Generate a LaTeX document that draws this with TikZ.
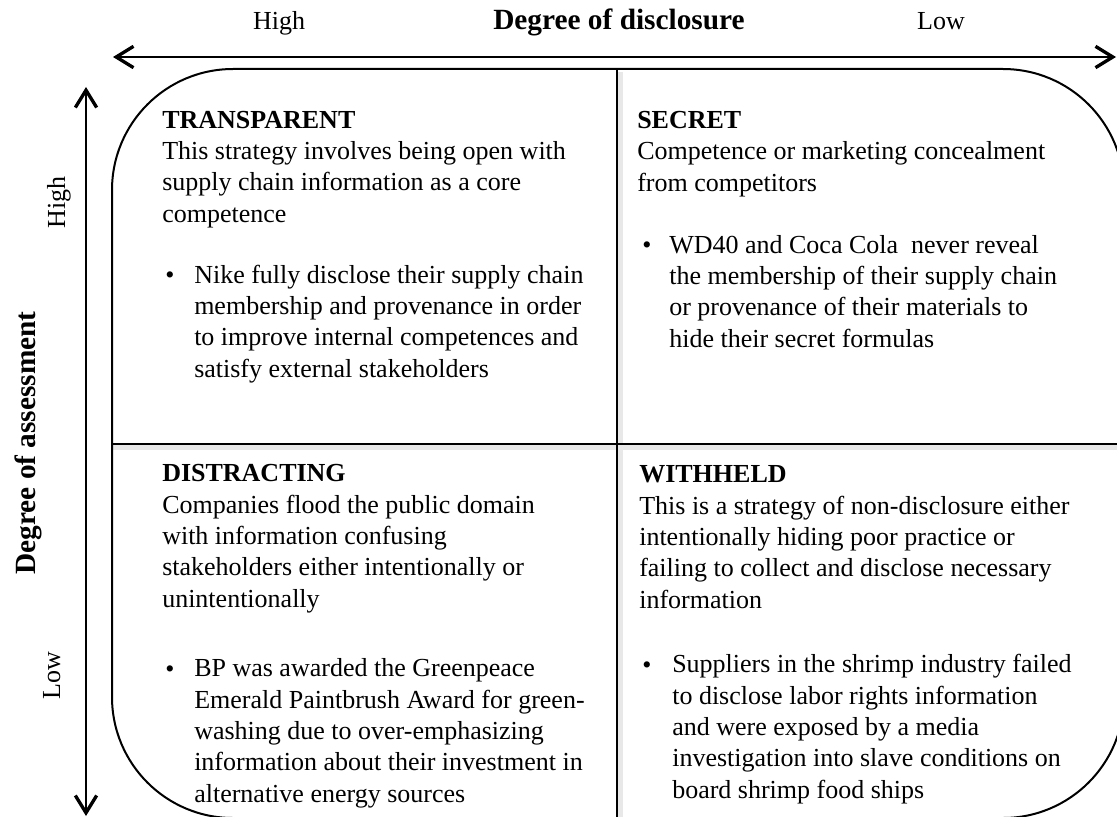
\documentclass[tikz,border=0pt]{standalone}
\usepackage{fontspec}
\setmainfont{Liberation Serif}
\usetikzlibrary{arrows.meta}

\begin{document}
\begin{tikzpicture}[x=0.75pt,y=-0.75pt,
        txt/.style={anchor=base west,inner sep=0pt,align=left,font=\fontsize{19.5}{23.5}\selectfont},
        lbl/.style={anchor=base,inner sep=0pt,font=\fontsize{19.5}{23.5}\selectfont},
        axisname/.style={anchor=base,inner sep=0pt,font=\fontsize{22}{26}\selectfont\bfseries},
        axisline/.style={line width=1.9pt,{Straight Barb[length=13pt,width=16pt,line width=2.5pt]}-{Straight Barb[length=13pt,width=16pt,line width=2.5pt]}},
        divider/.style={line width=1.5pt},
        shade/.style={black!9,line width=4pt}]
        \useasboundingbox (0,0) rectangle (1117,817);
        \clip (0,0) rectangle (1117,817);

        % Axes
        \coordinate (xleft) at (113,57);
        \coordinate (xright) at (1116,57);
        \coordinate (ytop) at (86,87);
        \coordinate (ybot) at (86,816);
        \draw[axisline] (xleft) -- (xright); % Horizontal
        \draw[axisline] (ytop) -- (ybot); % Vertical

        \node[lbl] (xhigh) at (279,30) {High};
        \node[axisname] (xname) at (619,30) {Degree of disclosure};
        \node[lbl] (xlow) at (941,30) {Low};
        \node[lbl,rotate=90] (yhigh) at (65,202) {High};
        \node[axisname,rotate=90] (yname) at (35,443) {Degree of assessment};
        \node[lbl,rotate=90] (ylow) at (60,676) {Low};

        % Matrix
        \draw[shade] (620,72) -- (620,818);
        \draw[shade] (112,447) -- (1124,447);
        \draw[divider] (617,69) -- (617,818);
        \draw[divider] (112,444) -- (1124,444);
        \draw[divider,rounded corners=90.75pt] (112,69) rectangle (1124,818);

        % Top left (base = last line)
        \node[txt] (transp) at (162,222) {\textbf{TRANSPARENT}\\This strategy involves being open with\\supply chain information as a core\\competence};
        \node[txt] (transpdot) at (165,283) {\textbullet};
        \node[txt] (transpex) at (194,377) {Nike fully disclose their supply chain\\membership and provenance in order\\to improve internal competences and\\satisfy external stakeholders};

        % Top right
        \node[txt] (secret) at (637,191) {\textbf{SECRET}\\Competence or marketing concealment\\from competitors};
        \node[txt] (secretdot) at (642,253) {\textbullet};
        \node[txt] (secretex) at (669,347) {WD40 and Coca Cola\ \ never reveal\\the membership of their supply chain\\or provenance of their materials to\\hide their secret formulas};

        % Bottom left
        \node[txt] (distr) at (162,607) {\textbf{DISTRACTING}\\Companies flood the public domain\\with information confusing\\stakeholders either intentionally or\\unintentionally};
        \node[txt] (distrdot) at (165,677) {\textbullet};
        \node[txt] (distrex) at (194,802) {BP was awarded the Greenpeace\\Emerald Paintbrush Award for green-\\washing due to over-emphasizing\\information about their investment in\\alternative energy sources};

        % Bottom right
        \node[txt] (withh) at (639,608) {\textbf{WITHHELD}\\This is a strategy of non-disclosure either\\intentionally hiding poor practice or\\failing to collect and disclose necessary\\information};
        \node[txt] (withhdot) at (642,673) {\textbullet};
        \node[txt] (withhex) at (672,798) {Suppliers in the shrimp industry failed\\to disclose labor rights information\\and were exposed by a media\\investigation into slave conditions on\\board shrimp food ships};
\end{tikzpicture}
\end{document}
